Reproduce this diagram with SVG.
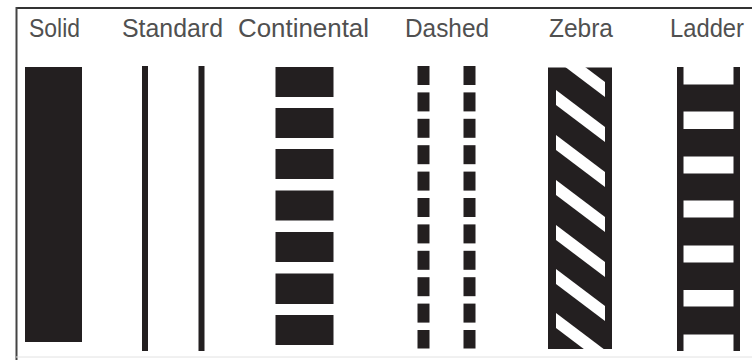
<svg xmlns="http://www.w3.org/2000/svg" width="752" height="360" viewBox="0 0 752 360">
<defs>
<style>
.lbl{font-family:"Liberation Sans",Arial,sans-serif;font-size:26px;fill:#505050;}
.blk{fill:#231f20;}
.wht{fill:#ffffff;}
</style>
<clipPath id="zclip"><rect x="556" y="67" width="49" height="282"/></clipPath>
</defs>
<rect width="752" height="360" fill="#ffffff"/>
<g id="frame">
<line x1="16" y1="8" x2="752" y2="8" stroke="#333" stroke-width="2"/>
<line x1="16.5" y1="7" x2="16.5" y2="360" stroke="#444" stroke-width="2"/>
<line x1="16" y1="357" x2="752" y2="357" stroke="#e2e2e2" stroke-width="1"/>
</g>
<g id="labels">
<text class="lbl" x="29" y="36.5" textLength="51" lengthAdjust="spacingAndGlyphs">Solid</text>
<text class="lbl" x="122" y="36.5" textLength="101" lengthAdjust="spacingAndGlyphs">Standard</text>
<text class="lbl" x="238" y="36.5" textLength="131" lengthAdjust="spacingAndGlyphs">Continental</text>
<text class="lbl" x="405" y="36.5" textLength="84" lengthAdjust="spacingAndGlyphs">Dashed</text>
<text class="lbl" x="549" y="36.5" textLength="64" lengthAdjust="spacingAndGlyphs">Zebra</text>
<text class="lbl" x="670" y="36.5" textLength="74" lengthAdjust="spacingAndGlyphs">Ladder</text>
</g>
<g id="solid">
<rect class="blk" x="25" y="67" width="57" height="275"/>
</g>
<g id="standard">
<rect class="blk" x="142" y="66" width="6" height="285"/>
<rect class="blk" x="198.5" y="66" width="6" height="285"/>
</g>
<g id="continental">
<rect class="blk" x="275.5" y="67" width="58" height="30"/>
<rect class="blk" x="275.5" y="108" width="58" height="30"/>
<rect class="blk" x="275.5" y="149" width="58" height="30"/>
<rect class="blk" x="275.5" y="190.5" width="58" height="30"/>
<rect class="blk" x="275.5" y="232" width="58" height="30"/>
<rect class="blk" x="275.5" y="273.5" width="58" height="30.5"/>
<rect class="blk" x="275.5" y="315" width="58" height="30"/>
</g>
<g id="dashed">
<rect class="blk" x="417.5" y="66" width="12" height="19"/>
<rect class="blk" x="417.5" y="92.4" width="12" height="19"/>
<rect class="blk" x="417.5" y="118.8" width="12" height="19"/>
<rect class="blk" x="417.5" y="145.2" width="12" height="19"/>
<rect class="blk" x="417.5" y="171.6" width="12" height="19"/>
<rect class="blk" x="417.5" y="198" width="12" height="19"/>
<rect class="blk" x="417.5" y="224.4" width="12" height="19"/>
<rect class="blk" x="417.5" y="250.8" width="12" height="19"/>
<rect class="blk" x="417.5" y="277.2" width="12" height="19"/>
<rect class="blk" x="417.5" y="303.6" width="12" height="19"/>
<rect class="blk" x="417.5" y="330" width="12" height="18.5"/>
<rect class="blk" x="463.5" y="66" width="12" height="19"/>
<rect class="blk" x="463.5" y="92.4" width="12" height="19"/>
<rect class="blk" x="463.5" y="118.8" width="12" height="19"/>
<rect class="blk" x="463.5" y="145.2" width="12" height="19"/>
<rect class="blk" x="463.5" y="171.6" width="12" height="19"/>
<rect class="blk" x="463.5" y="198" width="12" height="19"/>
<rect class="blk" x="463.5" y="224.4" width="12" height="19"/>
<rect class="blk" x="463.5" y="250.8" width="12" height="19"/>
<rect class="blk" x="463.5" y="277.2" width="12" height="19"/>
<rect class="blk" x="463.5" y="303.6" width="12" height="19"/>
<rect class="blk" x="463.5" y="330" width="12" height="18.5"/>
</g>
<g id="zebra">
<rect class="blk" x="548" y="67.5" width="64" height="281.5"/>
<g clip-path="url(#zclip)" class="wht">
<polygon points="556,45 605,82 605,97 556,60"/>
<polygon points="556,90 605,127 605,142 556,105"/>
<polygon points="556,135 605,172 605,187 556,150"/>
<polygon points="556,180 605,217 605,232 556,195"/>
<polygon points="556,225 605,262 605,277 556,240"/>
<polygon points="556,269 605,306 605,321 556,284"/>
<polygon points="556,313 605,350 605,365 556,328"/>
</g>
</g>
<g id="ladder">
<rect class="blk" x="677" y="67" width="6.5" height="284"/>
<rect class="blk" x="733.5" y="67" width="6.5" height="284"/>
<rect class="blk" x="677" y="84.5" width="63" height="27"/>
<rect class="blk" x="677" y="129" width="63" height="27.5"/>
<rect class="blk" x="677" y="173.5" width="63" height="27"/>
<rect class="blk" x="677" y="217.5" width="63" height="28"/>
<rect class="blk" x="677" y="262.5" width="63" height="27.5"/>
<rect class="blk" x="677" y="306.5" width="63" height="28"/>
</g>
</svg>
